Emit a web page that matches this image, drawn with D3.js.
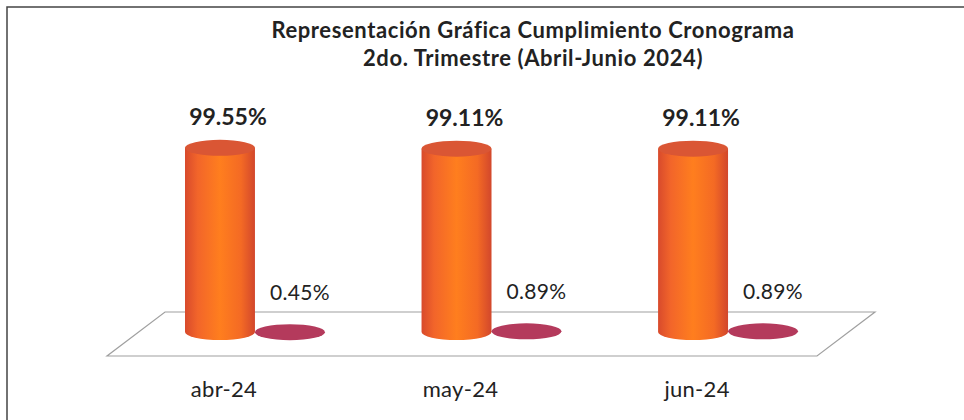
<!DOCTYPE html>
<html>
<head>
<meta charset="utf-8">
<script src="https://cdn.jsdelivr.net/npm/d3@7"></script>
<style>
    body { margin: 0; background: #fff; }
    text { font-family: Lato, "Open Sans", sans-serif; fill: #222; }
</style>
</head>
<body>
<div class="chart"></div>
<script>
const categories = ['abr-24', 'may-24', 'jun-24'];
const series = ['cumplimiento', 'incumplimiento'];
const cumplimiento = [99.55, 99.11, 99.11];
const incumplimiento = [0.45, 0.89, 0.89];
const titleLines = ['Representación Gráfica Cumplimiento Cronograma', '2do. Trimestre (Abril-Junio 2024)'];

const width = 964;
const height = 420;

let svg = d3.select('.chart').append('svg')
    .attr('width', width)
    .attr('height', height);

// gradient for the tall cylinders
let defs = svg.append('defs');
let grad = defs.append('linearGradient').attr('id', 'cyl').attr('x1', 0).attr('x2', 1).attr('y1', 0).attr('y2', 0);
[['0%', '#d84a2c'], ['18%', '#f2652a'], ['50%', '#ff7e1e'], ['80%', '#f46a24'], ['100%', '#d2472c']]
    .forEach(s => grad.append('stop').attr('offset', s[0]).attr('stop-color', s[1]));

// outer frame
svg.append('rect')
    .attr('x', 7).attr('y', 7)
    .attr('width', width + 10).attr('height', height + 10)
    .attr('fill', 'none').attr('stroke', '#444').attr('stroke-width', 1.5);

// title
svg.append('g').selectAll('text')
    .data(titleLines)
    .join('text')
    .attr('x', 533)
    .attr('y', (_, i) => 38 + i * 28)
    .attr('text-anchor', 'middle')
    .style('font-size', '22px')
    .style('letter-spacing', '0.6px')
    .style('font-weight', 'bold')
    .text(d => d);

// scales
let x = d3.scaleBand().domain(categories).range([185, 798]).paddingInner(0.4085).paddingOuter(0);
let xs = d3.scaleBand().domain(series).range([0, x.bandwidth()]);
let y = d3.scaleLinear().domain([0, 100]).range([332, 147]);

const rx = xs.bandwidth() / 2;
const ry = 8;

// floor (3D base plane)
const floorBack = 312, floorFront = 356, shear = 58;
const fx0 = x.range()[0] - 78, fx1 = x.range()[1] + 19;
svg.append('path')
    .attr('d', `M${fx0 + shear},${floorBack} L${fx1 + shear},${floorBack} L${fx1},${floorFront} L${fx0},${floorFront} Z`)
    .attr('fill', 'none')
    .attr('stroke', '#a0a0a0')
    .attr('stroke-width', 1.2);

// cylinders
let cyl = svg.append('g').selectAll('g')
    .data(cumplimiento)
    .join('g');

cyl.append('path')
    .attr('d', (d, i) => {
        const cx = x(categories[i]) + xs('cumplimiento') + rx;
        const top = y(d), base = y(0);
        return `M${cx - rx},${top} L${cx - rx},${base} A${rx},${ry} 0 0 0 ${cx + rx},${base} L${cx + rx},${top} Z`;
    })
    .attr('fill', 'url(#cyl)');

cyl.append('ellipse')
    .attr('cx', (_, i) => x(categories[i]) + xs('cumplimiento') + rx)
    .attr('cy', d => y(d))
    .attr('rx', rx)
    .attr('ry', ry)
    .attr('fill', '#da5634');

// flat discs for the small series
svg.append('g').selectAll('ellipse')
    .data(incumplimiento)
    .join('ellipse')
    .attr('cx', (_, i) => x(categories[i]) + xs('incumplimiento') + rx)
    .attr('cy', d => y(d) + 1)
    .attr('rx', rx)
    .attr('ry', ry)
    .attr('fill', '#b43a5c');

// value labels
svg.append('g').selectAll('text')
    .data(cumplimiento)
    .join('text')
    .attr('x', (_, i) => x(categories[i]) + xs('cumplimiento') + rx + 8)
    .attr('y', d => y(d) - 23)
    .attr('text-anchor', 'middle')
    .style('font-size', '23px')
    .style('font-weight', 'bold')
    .text(d => d.toFixed(2) + '%');

svg.append('g').selectAll('text')
    .data(incumplimiento)
    .join('text')
    .attr('x', (_, i) => x(categories[i]) + xs('incumplimiento') + rx + 10)
    .attr('y', d => y(d) - 31)
    .attr('text-anchor', 'middle')
    .style('font-size', '21px')
    .style('letter-spacing', '0.3px')
    .text(d => d.toFixed(2) + '%');

// category labels
svg.append('g').selectAll('text')
    .data(categories)
    .join('text')
    .attr('x', d => x(d) + xs('cumplimiento') + rx + 4)
    .attr('y', 397)
    .attr('text-anchor', 'middle')
    .style('font-size', '22px')
    .style('letter-spacing', '0.3px')
    .text(d => d);
</script>
</body>
</html>
